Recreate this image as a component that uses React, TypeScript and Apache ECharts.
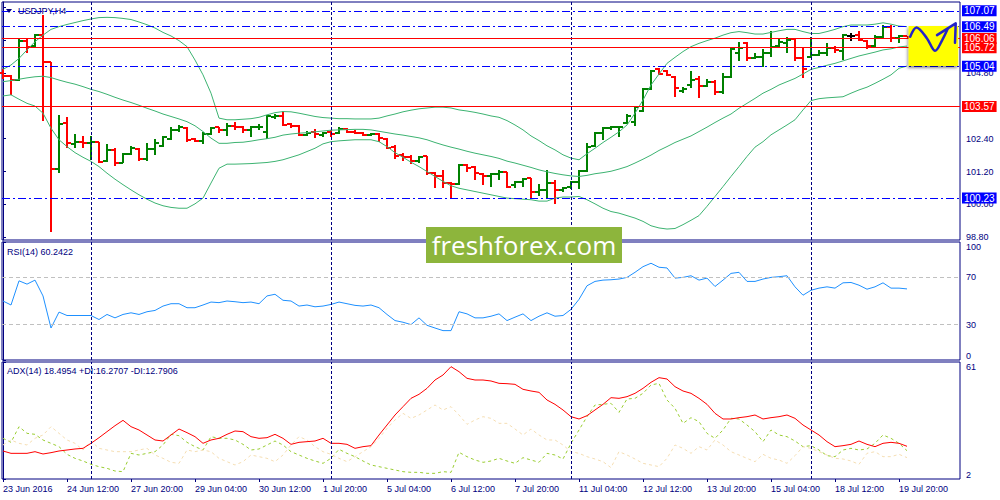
import React, { useEffect, useRef } from 'react'
import * as echarts from 'echarts'

// x axis: one H4 bar per index, labels every 8 bars
const tickLabels = [
  '23 Jun 2016', '24 Jun 12:00', '27 Jun 20:00', '29 Jun 04:00', '30 Jun 12:00',
  '1 Jul 20:00', '5 Jul 04:00', '6 Jul 12:00', '7 Jul 20:00', '11 Jul 04:00',
  '12 Jul 12:00', '13 Jul 20:00', '15 Jul 04:00', '18 Jul 12:00', '19 Jul 20:00'
]
const labelStep = 8
const weekStarts = [11, 41, 71, 101]

const opens = [
  104.80, 104.69, 104.54, 105.98, 105.78, 106.17, 105.21, 101.29, 102.96, 102.21,
  102.26, 102.23, 102.26, 101.57, 101.99, 101.51, 101.85, 102.03, 101.65, 102.03,
  102.14, 102.38, 102.72, 102.78, 102.38, 102.33, 102.57, 102.81, 102.72, 102.87,
  102.84, 102.72, 102.81, 102.66, 103.18, 103.23, 102.94, 102.87, 102.54, 102.66,
  102.54, 102.66, 102.62, 102.74, 102.66, 102.62, 102.54, 102.57, 102.40, 102.11,
  101.81, 101.72, 101.57, 101.75, 101.16, 101.02, 100.78, 100.75, 101.44, 101.35,
  101.12, 101.02, 101.10, 101.18, 100.71, 100.80, 100.96, 100.44, 100.53, 100.78,
  100.53, 100.63, 100.80, 101.23, 102.14, 102.62, 102.78, 102.81, 102.99, 103.02,
  103.41, 104.20, 104.93, 104.87, 104.66, 104.15, 104.36, 104.57, 104.32, 104.48,
  104.12, 104.66, 105.51, 105.88, 105.33, 105.37, 105.51, 105.78, 105.90, 106.03,
  105.33, 105.39, 105.45, 105.51, 105.70, 105.61, 106.15, 106.18, 105.98, 105.78,
  106.10, 106.49, 106.06, 106.15
]
const highs = [
  104.93, 104.73, 106.03, 106.06, 106.21, 106.91, 105.21, 103.27, 103.18, 102.56,
  102.50, 102.50, 102.26, 102.21, 102.05, 101.87, 102.14, 102.05, 102.23, 102.38,
  102.48, 102.82, 102.90, 102.81, 102.44, 102.63, 102.82, 102.84, 102.99, 103.01,
  102.87, 102.87, 102.93, 103.27, 103.29, 103.41, 102.99, 102.90, 102.68, 102.74,
  102.63, 102.72, 102.82, 102.78, 102.72, 102.66, 102.62, 102.60, 102.44, 102.17,
  101.89, 101.81, 101.77, 101.77, 101.20, 101.26, 100.80, 101.47, 101.47, 101.41,
  101.14, 101.14, 101.24, 101.20, 100.84, 100.96, 100.98, 100.74, 101.26, 100.90,
  100.63, 100.84, 101.26, 102.23, 102.66, 102.82, 102.88, 102.87, 103.29, 103.60,
  104.24, 104.91, 104.97, 104.91, 104.69, 104.28, 104.87, 104.69, 104.57, 104.54,
  104.81, 105.76, 105.94, 105.92, 105.51, 105.66, 106.34, 106.03, 106.10, 106.06,
  105.76, 106.10, 105.64, 105.88, 105.78, 106.21, 106.24, 106.34, 106.00, 106.18,
  106.55, 106.55, 106.18, 106.15
]
const lows = [
  104.59, 104.00, 104.52, 105.51, 105.76, 103.06, 99.01, 101.14, 102.05, 102.05,
  102.05, 101.63, 101.51, 101.53, 101.41, 101.51, 101.81, 101.60, 101.57, 101.81,
  102.11, 102.36, 102.66, 102.29, 102.27, 102.21, 102.54, 102.60, 102.50, 102.70,
  102.62, 102.45, 102.72, 102.38, 103.12, 102.87, 102.78, 102.48, 102.48, 102.44,
  102.45, 102.45, 102.56, 102.60, 102.56, 102.48, 102.48, 102.27, 102.01, 101.65,
  101.57, 101.48, 101.51, 101.06, 100.59, 100.59, 100.19, 100.71, 101.18, 100.90,
  100.71, 100.63, 100.90, 100.59, 100.59, 100.65, 100.23, 100.29, 100.23, 100.01,
  100.47, 100.56, 100.56, 101.20, 102.11, 102.36, 102.72, 102.45, 102.94, 102.87,
  103.39, 104.18, 104.73, 104.69, 103.93, 104.08, 104.24, 103.90, 104.28, 104.00,
  104.03, 104.63, 105.25, 105.25, 105.30, 105.03, 105.39, 105.76, 105.54, 105.24,
  104.63, 105.33, 105.42, 105.42, 105.54, 105.27, 105.98, 105.98, 105.67, 105.76,
  106.06, 105.94, 105.88, 106.10
]
const closes = [
  104.68, 104.54, 105.98, 105.76, 106.17, 105.21, 101.29, 102.94, 102.23, 102.26,
  102.23, 102.26, 101.53, 101.99, 101.51, 101.85, 102.05, 101.65, 102.03, 102.23,
  102.45, 102.70, 102.84, 102.36, 102.33, 102.57, 102.78, 102.70, 102.87, 102.81,
  102.72, 102.82, 102.84, 103.23, 103.23, 102.89, 102.87, 102.54, 102.62, 102.56,
  102.60, 102.56, 102.76, 102.66, 102.60, 102.54, 102.56, 102.42, 102.05, 101.75,
  101.72, 101.57, 101.72, 101.14, 101.02, 100.78, 100.74, 101.44, 101.32, 101.14,
  101.04, 101.10, 101.20, 100.65, 100.80, 100.92, 100.44, 100.53, 100.78, 100.53,
  100.59, 100.80, 101.23, 102.11, 102.62, 102.78, 102.84, 102.84, 103.21, 103.55,
  104.20, 104.87, 104.76, 104.73, 104.24, 104.21, 104.54, 104.32, 104.48, 104.12,
  104.66, 105.66, 105.70, 105.33, 105.37, 105.54, 105.76, 105.94, 106.00, 105.33,
  104.93, 105.45, 105.51, 105.70, 105.64, 106.17, 106.15, 106.00, 105.78, 106.12,
  106.49, 106.06, 106.15, 106.12
]

// Bollinger bands
const bbUpper = [
  104.93, 105.09, 105.33, 105.64, 105.94, 106.18, 106.39, 106.49, 106.57, 106.64,
  106.71, 106.77, 106.82, 106.83, 106.82, 106.79, 106.75, 106.66, 106.56, 106.44,
  106.28, 106.15, 105.98, 105.76, 105.27, 104.73, 104.06, 103.15, 103.09, 103.09,
  103.11, 103.13, 103.18, 103.27, 103.35, 103.39, 103.38, 103.33, 103.27, 103.21,
  103.17, 103.15, 103.13, 103.13, 103.12, 103.12, 103.12, 103.15, 103.23, 103.30,
  103.38, 103.44, 103.49, 103.52, 103.55, 103.55, 103.52, 103.45, 103.41, 103.36,
  103.30, 103.23, 103.18, 103.06, 102.90, 102.72, 102.50, 102.33, 102.14, 101.99,
  101.81, 101.69, 101.63, 101.85, 102.05, 102.26, 102.45, 102.65, 102.90, 103.33,
  103.81, 104.36, 104.76, 105.15, 105.37, 105.58, 105.76, 105.88, 105.98, 106.07,
  106.18, 106.27, 106.31, 106.27, 106.22, 106.22, 106.28, 106.34, 106.39, 106.39,
  106.31, 106.24, 106.24, 106.31, 106.39, 106.49, 106.55, 106.55, 106.55, 106.58,
  106.63, 106.58, 106.51, 106.49
]
const bbMiddle = [
  104.48, 104.52, 104.57, 104.62, 104.66, 104.68, 104.63, 104.54, 104.46, 104.39,
  104.30, 104.20, 104.12, 104.02, 103.91, 103.81, 103.72, 103.62, 103.51, 103.41,
  103.30, 103.21, 103.12, 103.02, 102.87, 102.66, 102.42, 102.23, 102.23, 102.26,
  102.27, 102.31, 102.36, 102.40, 102.45, 102.53, 102.57, 102.60, 102.62, 102.65,
  102.68, 102.71, 102.72, 102.73, 102.74, 102.74, 102.72, 102.67, 102.62, 102.57,
  102.53, 102.48, 102.43, 102.36, 102.26, 102.17, 102.09, 102.02, 101.94, 101.87,
  101.81, 101.75, 101.68, 101.58, 101.51, 101.43, 101.35, 101.26, 101.19, 101.13,
  101.08, 101.04, 101.02, 101.06, 101.12, 101.16, 101.21, 101.29, 101.38, 101.51,
  101.65, 101.80, 101.97, 102.11, 102.26, 102.38, 102.50, 102.66, 102.82, 102.99,
  103.15, 103.30, 103.51, 103.69, 103.87, 104.06, 104.20, 104.36, 104.48, 104.60,
  104.76, 104.93, 105.00, 105.08, 105.15, 105.24, 105.33, 105.42, 105.49, 105.56,
  105.64, 105.68, 105.75, 105.78
]
const bbLower = [
  103.96, 104.00, 103.84, 103.69, 103.59, 103.33, 102.78, 102.36, 102.11, 101.89,
  101.72, 101.57, 101.38, 101.14, 100.92, 100.72, 100.53, 100.35, 100.19, 100.05,
  99.95, 99.89, 99.86, 99.86, 100.02, 100.23, 100.78, 101.32, 101.47, 101.47,
  101.48, 101.49, 101.51, 101.53, 101.57, 101.63, 101.72, 101.81, 101.93, 102.05,
  102.21, 102.29, 102.32, 102.34, 102.36, 102.36, 102.36, 102.29, 102.11, 101.89,
  101.72, 101.54, 101.38, 101.20, 101.02, 100.84, 100.68, 100.59, 100.53, 100.47,
  100.41, 100.35, 100.29, 100.23, 100.21, 100.19, 100.17, 100.12, 100.12, 100.23,
  100.27, 100.27, 100.29, 100.17, 100.02, 99.86, 99.74, 99.68, 99.59, 99.50,
  99.38, 99.22, 99.14, 99.10, 99.12, 99.26, 99.42, 99.59, 99.93, 100.29,
  100.65, 101.02, 101.38, 101.75, 102.09, 102.29, 102.54, 102.72, 102.90, 103.09,
  103.45, 103.79, 103.86, 103.89, 103.91, 103.93, 104.06, 104.18, 104.28, 104.42,
  104.57, 104.73, 104.97, 105.05
]

const rsi = [
  50.0, 46.6, 67.1, 64.3, 67.7, 54.3, 27.1, 40.6, 37.7, 37.7,
  37.7, 37.7, 34.3, 38.6, 35.7, 38.6, 40.0, 38.6, 40.9, 42.0,
  45.7, 47.7, 47.7, 44.3, 44.3, 46.6, 49.1, 48.6, 50.0, 49.4,
  48.6, 49.1, 47.7, 54.3, 55.7, 50.6, 50.0, 45.7, 46.6, 45.1,
  45.7, 47.1, 49.1, 47.7, 46.3, 45.7, 46.6, 44.3, 38.6, 33.4,
  32.0, 30.0, 35.7, 29.4, 27.1, 24.9, 24.9, 40.9, 39.1, 35.7,
  35.7, 37.1, 39.1, 33.4, 36.3, 39.1, 33.4, 37.1, 40.0, 37.1,
  37.7, 42.9, 51.4, 62.9, 66.6, 67.7, 68.0, 68.6, 70.0, 74.3,
  79.1, 82.0, 78.6, 78.0, 69.4, 70.0, 71.4, 67.7, 69.4, 62.3,
  67.7, 73.4, 74.3, 66.6, 66.6, 68.6, 70.0, 70.6, 71.4, 62.0,
  54.9, 59.1, 60.9, 62.0, 60.9, 65.4, 65.7, 63.4, 60.0, 62.0,
  65.4, 60.9, 60.9, 60.2422
]

const adx = [
  16.12, 14.94, 14.94, 14.94, 15.78, 14.61, 15.28, 16.12, 16.62, 17.13,
  17.46, 19.99, 22.84, 25.87, 28.89, 31.58, 28.39, 26.71, 24.19, 21.67,
  21.16, 24.19, 27.21, 25.37, 23.35, 19.99, 21.67, 22.51, 24.52, 26.21,
  25.87, 23.35, 22.51, 22.84, 24.52, 22.51, 19.48, 20.49, 20.83, 21.16,
  22.51, 19.99, 19.99, 19.48, 17.46, 18.31, 18.81, 24.19, 29.23, 34.27,
  38.48, 42.68, 44.70, 47.72, 51.92, 54.44, 58.65, 56.13, 52.76, 51.92,
  51.92, 51.42, 50.24, 50.07, 49.74, 47.22, 46.38, 45.70, 41.84, 39.65,
  36.80, 33.43, 32.26, 33.94, 36.80, 39.65, 43.01, 42.68, 43.52, 45.20,
  47.72, 50.75, 53.10, 52.43, 48.56, 46.38, 45.20, 42.68, 39.65, 35.11,
  32.26, 32.26, 32.93, 33.43, 34.27, 32.26, 32.93, 33.43, 34.27, 32.59,
  29.23, 26.71, 24.19, 20.83, 18.31, 18.81, 19.48, 21.16, 19.48, 18.31,
  19.99, 20.49, 19.99, 18.4954
]
const plusDi = [
  22.51, 20.49, 28.39, 25.03, 24.52, 21.67, 19.99, 18.31, 14.44, 12.42,
  11.08, 9.40, 8.22, 7.38, 6.03, 5.70, 14.94, 14.10, 14.94, 15.78,
  19.15, 24.52, 23.85, 20.49, 18.31, 16.62, 23.35, 22.51, 22.51, 21.67,
  19.48, 16.62, 17.13, 19.15, 21.16, 19.15, 15.78, 14.10, 12.42, 11.08,
  9.90, 12.42, 16.96, 14.94, 13.26, 11.08, 9.06, 8.22, 7.38, 6.54,
  5.70, 5.36, 5.36, 4.86, 4.86, 5.70, 5.36, 15.45, 13.26, 11.58,
  10.41, 11.08, 12.42, 11.08, 9.90, 12.76, 11.58, 10.41, 14.94, 14.10,
  12.09, 19.99, 26.71, 33.43, 39.32, 39.65, 40.16, 35.62, 42.34, 42.68,
  45.20, 49.40, 50.24, 41.84, 37.64, 30.07, 32.93, 30.91, 25.03, 22.51,
  26.71, 32.59, 32.26, 29.23, 25.87, 20.83, 26.71, 24.19, 23.35, 21.16,
  18.31, 18.81, 16.62, 13.77, 13.26, 16.62, 17.46, 16.62, 17.13, 19.99,
  24.19, 22.51, 19.99, 16.2707
]
const minusDi = [
  19.15, 21.67, 19.99, 19.15, 22.51, 24.19, 28.39, 25.03, 21.67, 19.99,
  16.62, 21.16, 17.46, 16.62, 15.78, 15.78, 15.78, 16.62, 17.46, 14.10,
  12.42, 10.41, 9.90, 16.62, 15.78, 16.62, 15.78, 12.42, 10.74, 9.06,
  10.74, 14.10, 13.26, 12.42, 10.74, 14.10, 19.15, 23.35, 21.67, 18.31,
  15.78, 14.44, 12.42, 10.74, 13.26, 15.78, 18.31, 22.51, 27.55, 31.75,
  35.11, 32.59, 34.27, 36.80, 39.32, 36.80, 38.48, 34.27, 29.57, 31.75,
  33.43, 32.59, 30.07, 30.07, 27.21, 24.19, 27.21, 24.19, 21.67, 21.67,
  19.15, 15.78, 14.94, 13.26, 12.09, 10.74, 7.72, 15.78, 14.10, 12.09,
  9.90, 9.06, 8.22, 12.42, 19.15, 17.46, 14.94, 18.31, 16.62, 21.67,
  19.15, 15.78, 14.10, 12.42, 10.74, 14.44, 12.42, 11.58, 9.90, 13.77,
  18.31, 17.46, 15.78, 14.10, 12.42, 12.09, 11.08, 9.40, 14.94, 15.78,
  13.26, 13.26, 14.44, 12.7906
]

const redLevels = [106.06, 105.72, 103.57]
const blueLevels = [107.07, 106.49, 105.04, 100.23]
const priceTicks = [98.8, 100.0, 101.2, 102.4, 103.6, 104.8, 106.0, 107.2]
// labels that are not hidden behind a level box
const priceLabels = [98.8, 100.0, 101.2, 102.4, 104.8]
const rsiLevels = [30, 70]
const rsiTicks = [0, 30, 70, 100]
const adxTicks = [2, 61]

// hand drawn forecast note (bar index, price)
const noteBoxX = [113.2, 119.4]
const noteBoxY = [106.51, 105.05]
const noteCurveX = [113.4, 114.2, 115.5, 116.5, 117.4, 118.1]
const noteCurveY = [106.12, 106.46, 106.06, 105.61, 106.0, 106.42]
const noteArrowX = [116.75, 119.09, 119.0]
const noteArrowY = [106.18, 106.61, 105.9]

const NAVY = '#000080'
const BULL = '#008000'
const BEAR = '#ff0000'
const FONT = 'Liberation Sans, Arial, sans-serif'
const X_MIN = -0.125
const X_MAX = 119.625

const App: React.FC = () => {
  const chartRef = useRef<HTMLDivElement>(null)

  useEffect(() => {
    if (!chartRef.current) return
    const chart = echarts.init(chartRef.current, undefined, { renderer: 'svg' })

    const last = rsi.length - 1
    const bars = opens.map((o, i) => [i, o, highs[i], lows[i], closes[i]])
    const toXY = (arr: number[]) => arr.map((v, i) => [i, v])
    const labelIdx = tickLabels.map((_, k) => k * labelStep)

    const weekLines = weekStarts.map(i => ({
      xAxis: i,
      lineStyle: { color: NAVY, type: [3, 2], width: 1 },
      label: { show: false }
    }))

    const levelLabel = (bg: string) => ({
      show: true,
      position: 'end',
      distance: 2,
      formatter: (p: any) => Number(p.value).toFixed(2),
      color: '#fff',
      backgroundColor: bg,
      fontFamily: FONT,
      fontSize: 10,
      lineHeight: 10,
      padding: [1, 2, 0, 2]
    })

    const hiddenX = (gridIndex: number) => ({
      type: 'value', gridIndex, min: X_MIN, max: X_MAX, show: false
    })

    const rightY = (
      gridIndex: number, min: number, max: number, ticks: number[], labels: number[],
      fmt: (v: number) => string, edge: boolean
    ) => ({
      type: 'value',
      gridIndex,
      position: 'right',
      min,
      max,
      axisLine: { show: true, lineStyle: { color: NAVY, width: 1 } },
      axisTick: { show: true, length: 3, customValues: ticks, lineStyle: { color: NAVY } },
      axisLabel: {
        customValues: labels,
        formatter: fmt,
        color: NAVY,
        fontFamily: FONT,
        fontSize: 9,
        margin: 6,
        ...(edge ? { verticalAlignMinLabel: 'bottom', verticalAlignMaxLabel: 'top' } : {})
      },
      splitLine: { show: false }
    })

    const lineSeries = (name: string, x: number, data: number[], color: string, width: number, type: any = 'solid') => ({
      name,
      type: 'line',
      xAxisIndex: x,
      yAxisIndex: x,
      data: toXY(data),
      showSymbol: false,
      symbol: 'none',
      silent: true,
      lineStyle: { color, width, type },
      emphasis: { disabled: true }
    })

    const gridBase = { left: 2, width: 958, show: true, borderColor: NAVY, borderWidth: 1, backgroundColor: '#fff' }

    chart.setOption({
      animation: false,
      backgroundColor: '#fff',
      grid: [
        { ...gridBase, top: 2, height: 238 },
        { ...gridBase, top: 242, height: 118 },
        { ...gridBase, top: 362, height: 117 }
      ],
      xAxis: [
        hiddenX(0),
        hiddenX(1),
        {
          type: 'value',
          gridIndex: 2,
          min: X_MIN,
          max: X_MAX,
          axisLine: { show: false },
          axisTick: { show: true, length: 3, customValues: labelIdx, lineStyle: { color: NAVY } },
          axisLabel: {
            customValues: labelIdx,
            formatter: (v: number) => tickLabels[Math.round(v / labelStep)] ?? '',
            align: 'left',
            color: NAVY,
            fontFamily: FONT,
            fontSize: 9,
            margin: 5
          },
          splitLine: { show: false }
        }
      ],
      yAxis: [
        rightY(0, 98.7, 107.39, priceTicks, priceLabels, v => v.toFixed(2), false),
        rightY(1, 0, 100, rsiTicks, rsiTicks, v => String(v), true),
        rightY(2, 2, 61, adxTicks, adxTicks, v => String(v), true)
      ],
      series: [
        {
          name: 'USDJPY',
          type: 'custom',
          xAxisIndex: 0,
          yAxisIndex: 0,
          data: bars,
          encode: { x: 0, y: [1, 2, 3, 4] },
          silent: true,
          renderItem: (_params: any, api: any) => {
            const i = api.value(0)
            const o = api.value(1)
            const c = api.value(4)
            const top = api.coord([i, api.value(2)])
            const bot = api.coord([i, api.value(3)])
            const po = api.coord([i, o])
            const pc = api.coord([i, c])
            const x = Math.round(top[0])
            const yo = Math.round(po[1])
            const yc = Math.round(pc[1])
            const color = c > o ? BULL : c < o ? BEAR : '#000'
            const style = { stroke: color, lineWidth: 2 }
            return {
              type: 'group',
              children: [
                { type: 'line', shape: { x1: x, y1: Math.round(top[1]), x2: x, y2: Math.round(bot[1]) }, style },
                { type: 'line', shape: { x1: x - 4, y1: yo, x2: x, y2: yo }, style },
                { type: 'line', shape: { x1: x, y1: yc, x2: x + 4, y2: yc }, style }
              ]
            }
          }
        },
        lineSeries('BB upper', 0, bbUpper, '#3cb371', 1),
        lineSeries('BB lower', 0, bbLower, '#3cb371', 1),
        {
          ...lineSeries('BB middle', 0, bbMiddle, '#3cb371', 1),
          clip: false,
          markLine: {
            silent: true,
            symbol: ['none', 'none'],
            animation: false,
            data: [
              ...weekLines,
              ...blueLevels.map(v => ({
                yAxis: v,
                lineStyle: { color: '#0000ff', type: [8, 3, 2, 3], width: 1 },
                label: levelLabel('#0000ff')
              })),
              ...redLevels.map(v => ({
                yAxis: v,
                lineStyle: { color: '#ff0000', type: 'solid', width: 1 },
                label: levelLabel('#ff0000')
              }))
            ]
          }
        },
        {
          ...lineSeries('RSI(14)', 1, rsi, '#1e90ff', 1),
          markLine: {
            silent: true,
            symbol: ['none', 'none'],
            animation: false,
            data: [
              ...rsiLevels.map(v => ({
                yAxis: v,
                lineStyle: { color: '#c0c0c0', type: [4, 3], width: 1 },
                label: { show: false }
              })),
              ...weekLines
            ]
          }
        },
        lineSeries('+DI', 2, plusDi, '#9acd32', 1, [3, 3]),
        lineSeries('-DI', 2, minusDi, '#f5deb3', 1, [3, 3]),
        {
          ...lineSeries('ADX(14)', 2, adx, '#ff0000', 1),
          markLine: {
            silent: true,
            symbol: ['none', 'none'],
            animation: false,
            data: weekLines
          }
        }
      ]
    })

    const toPx = (x: number, y: number) => chart.convertToPixel({ gridIndex: 0 }, [x, y]) as number[]
    const b1 = toPx(noteBoxX[0], noteBoxY[0])
    const b2 = toPx(noteBoxX[1], noteBoxY[1])
    const curve = noteCurveX.map((x, k) => toPx(x, noteCurveY[k]))
    const arrow = noteArrowX.map((x, k) => toPx(x, noteArrowY[k]))
    const noteStroke = { stroke: '#2424c8', lineWidth: 2.5, fill: 'none', lineCap: 'round', lineJoin: 'round' }
    const headerStyle = { fill: NAVY, font: `9px ${FONT}`, verticalAlign: 'middle' }

    chart.setOption({
      graphic: [
        {
          type: 'rect', z: 90,
          shape: { x: b1[0], y: b1[1], width: b2[0] - b1[0], height: b2[1] - b1[1] },
          style: { fill: '#ffff00', shadowBlur: 3, shadowColor: 'rgba(0,0,0,0.45)', shadowOffsetX: -1, shadowOffsetY: 2 }
        },
        { type: 'polyline', z: 91, shape: { points: curve, smooth: 0.35 }, style: noteStroke },
        { type: 'polyline', z: 91, shape: { points: arrow }, style: noteStroke },
        {
          type: 'polygon', z: 95,
          shape: { points: [[6, 9], [12, 9], [9, 13]] },
          style: { fill: NAVY }
        },
        { type: 'text', z: 95, x: 18, y: 11, style: { ...headerStyle, text: 'USDJPY,H4' } },
        { type: 'text', z: 95, x: 7, y: 252, style: { ...headerStyle, text: `RSI(14) ${rsi[last].toFixed(4)}` } },
        {
          type: 'text', z: 95, x: 7, y: 371,
          style: {
            ...headerStyle,
            text: `ADX(14) ${adx[last].toFixed(4)} +DI:${plusDi[last].toFixed(4)} -DI:${minusDi[last].toFixed(4)}`
          }
        },
        {
          type: 'group', z: 100, x: 426, y: 227,
          children: [
            { type: 'rect', z: 100, shape: { x: 0, y: 0, width: 196, height: 36 }, style: { fill: '#8db53c' } },
            {
              type: 'text', z: 101, x: 98, y: 18,
              style: {
                text: 'freshforex.com', fill: '#fff', align: 'center', verticalAlign: 'middle',
                font: '26px "Open Sans", "Noto Sans", sans-serif'
              }
            }
          ]
        }
      ]
    })

    return () => {
      chart.dispose()
    }
  }, [])

  return (
    <div
      ref={chartRef}
      style={{ position: 'fixed', left: 0, top: 0, width: 1000, height: 500, background: '#fff' }}
    />
  )
}

export default App
